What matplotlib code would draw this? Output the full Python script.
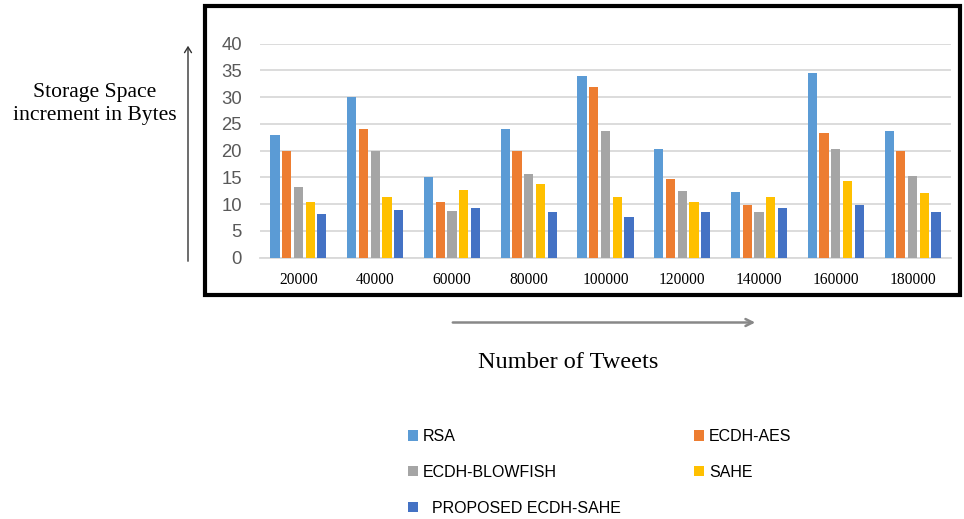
import numpy as np
import matplotlib
matplotlib.use('Agg')
import matplotlib.pyplot as plt
from matplotlib.patches import Rectangle, FancyArrowPatch

# Storage space increment (bytes) per scheme for each tweet count
tweets = ['20000', '40000', '60000', '80000', '100000', '120000', '140000', '160000', '180000']
rsa = [23, 30, 15, 24, 34, 20.3, 12.2, 34.6, 23.6]
ecdh_aes = [20, 24, 10.4, 20, 31.9, 14.8, 9.9, 23.4, 20]
ecdh_blowfish = [13.2, 20, 8.8, 15.6, 23.6, 12.4, 8.6, 20.3, 15.3]
sahe = [10.5, 11.3, 12.6, 13.8, 11.4, 10.4, 11.4, 14.4, 12.1]
proposed = [8.1, 9.0, 9.2, 8.5, 7.7, 8.6, 9.2, 9.85, 8.6]

series = [rsa, ecdh_aes, ecdh_blowfish, sahe, proposed]
names = ['RSA', 'ECDH-AES', 'ECDH-BLOWFISH', 'SAHE', '  PROPOSED ECDH-SAHE']
colors = ['#5B9BD5', '#ED7D31', '#A5A5A5', '#FFC000', '#4472C4']

W, H = 964, 519
fig = plt.figure(figsize=(W / 100, H / 100), dpi=100)


def fx(x):
    return x / W


def fy(y):
    return 1 - y / H


ax = fig.add_axes([fx(260), fy(257.7), fx(951) - fx(260), fy(43.7) - fy(257.7)])

x = np.arange(len(tweets))
slot = 0.153
width = 0.12
bars = []
for i, (vals, c) in enumerate(zip(series, colors)):
    b = ax.bar(x + (i - 2) * slot, vals, width=width, color=c, zorder=3)
    bars.append(b)

ax.set_xlim(-0.5, len(tweets) - 0.5)
ax.set_ylim(0, 40)
ax.set_yticks(range(0, 41, 5))
ax.set_xticks(x)
ax.set_xticklabels(tweets, fontfamily='Liberation Serif', fontsize=11.2, color='black')
for lbl in ax.get_yticklabels():
    lbl.set_fontfamily('Liberation Sans')
    lbl.set_fontsize(13.3)
    lbl.set_color('#595959')
ax.tick_params(axis='both', length=0)
ax.tick_params(axis='y', pad=13)
ax.tick_params(axis='x', pad=10)
ax.grid(axis='y', color='#D9D9D9', linewidth=1.3, zorder=0)
for s in ['top', 'right', 'left']:
    ax.spines[s].set_visible(False)
ax.spines['bottom'].set_color('#D9D9D9')
ax.spines['bottom'].set_linewidth(1.3)

# thick frame around the chart
fig.add_artist(Rectangle((fx(204.5), fy(294.5)), fx(960) - fx(204.5), fy(6) - fy(294.5),
                         transform=fig.transFigure, fill=False, edgecolor='black', linewidth=3))

# axis arrows and titles
fig.add_artist(FancyArrowPatch((fx(188), fy(264)), (fx(188), fy(43)), transform=fig.transFigure,
                               arrowstyle='->,head_length=4,head_width=2.5', color='#333333',
                               linewidth=1, mutation_scale=1))
fig.add_artist(FancyArrowPatch((fx(450), fy(322.5)), (fx(758), fy(322.5)), transform=fig.transFigure,
                               arrowstyle='->,head_length=5,head_width=2.5', color='#888888',
                               linewidth=1.8, mutation_scale=1))
fig.text(fx(95), fy(104), 'Storage Space\nincrement in Bytes', ha='center', va='center',
         fontfamily='Liberation Serif', fontsize=15.6, linespacing=1.35)
fig.text(fx(568), fy(363), 'Number of Tweets', ha='center', va='center',
         fontfamily='Liberation Serif', fontsize=17.5)

order = [0, 2, 4, 1, 3]
fig.legend([bars[i] for i in order], [names[i] for i in order], ncol=2,
           loc='upper left', bbox_to_anchor=(fx(408), fy(429)), frameon=False,
           prop={'family': 'Liberation Sans', 'size': 11.5},
           handlelength=0.65, handleheight=0.65, handletextpad=0.3,
           labelspacing=1.3, columnspacing=4.55, borderpad=0, borderaxespad=0)

fig.savefig('out.png', dpi=100)
